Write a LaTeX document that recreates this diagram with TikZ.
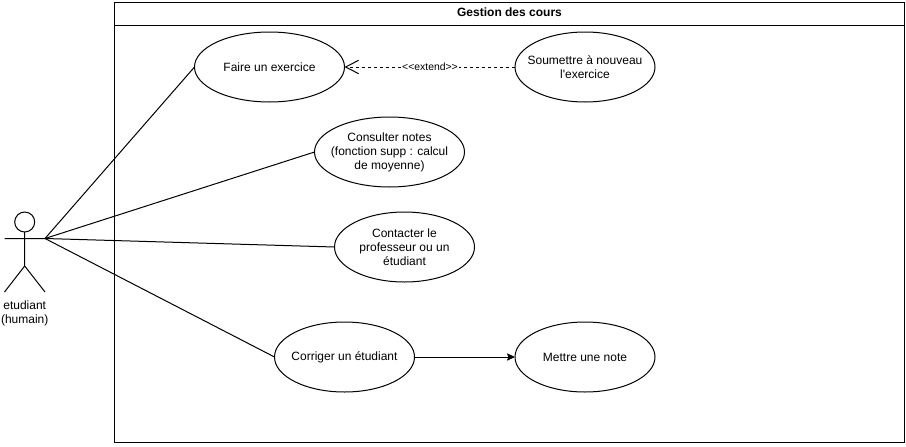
\documentclass[tikz,border=0pt]{standalone}
\usepackage{fontspec}
\setmainfont{Liberation Sans}
\newfontfamily\rawfont{Liberation Sans}
\usetikzlibrary{shapes.geometric,arrows.meta}
\tikzset{
 every node/.style={font=\fontsize{9}{10.5}\selectfont},
 uc/.style n args={2}{draw,ellipse,outer sep=0pt,inner sep=0pt,minimum width=#1*0.75pt,minimum height=52.5pt,
   label={[align=center,inner sep=0pt]center:#2}},
}
\begin{document}
\begin{tikzpicture}[x=0.75pt,y=-0.75pt,line width=0.75pt]
\useasboundingbox (0,0) rectangle (906,446);
\node[draw,outer sep=0pt,minimum width=790*0.75pt,minimum height=440*0.75pt,inner sep=0pt] (sys) at (509.5,222.5) {};
\coordinate (tl) at (114.5,25); \coordinate (tr) at (904.5,25);
\draw (tl) -- (tr);
\node[font=\fontsize{9}{10.5}\selectfont\bfseries] (title) at (509.5,12.5) {Gestion des cours};
\node[uc={150}{Faire un exercice}] (a) at (269.5,67) {};
\node[uc={140}{Soumettre à nouveau\\{\rawfont l'exercice}}] (b) at (585,67) {};
\node[uc={150}{Consulter notes\\(fonction supp : calcul\\de moyenne)}] (c) at (389.5,152) {};
\node[uc={140}{Contacter le\\professeur ou un\\étudiant}] (d) at (404.5,247) {};
\node[uc={140}{Corriger un étudiant}] (e) at (344.5,357) {};
\node[uc={140}{Mettre une note}] (f) at (585,357) {};
\coordinate (act) at (45,238.5);
\node[draw,circle,outer sep=0pt,minimum size=20*0.75pt,inner sep=0pt] (head) at (24.7,222) {};
\coordinate (hip) at (24.7,266);
\coordinate (la) at (4.5,238.5);
\coordinate (ll) at (4.5,292);
\coordinate (rl) at (45,292);
\draw (head) -- (hip) (la) -- (act) (hip) -- (ll) (hip) -- (rl);
\node[align=center] (lbl) at (24.7,313) {etudiant\\(humain)};
\draw (act) -- (a.west);
\draw (act) -- (c.west);
\draw (act) -- (d.west);
\draw (act) -- (e.west);
\draw[-{Stealth[length=6pt,width=5.5pt,inset=1pt]}] (e.east) -- (f.west);
\draw[dash pattern=on 2.25pt off 2.25pt,-{Straight Barb[length=9.75pt,width=10pt,line width=0.75pt]}] (b.west) -- (a.east);
\node[fill=white,inner sep=1pt,font=\fontsize{7.8}{9}\selectfont] (ext) at (430,66.5) {{<}{<}extend{>}{>}};
\end{tikzpicture}
\end{document}
